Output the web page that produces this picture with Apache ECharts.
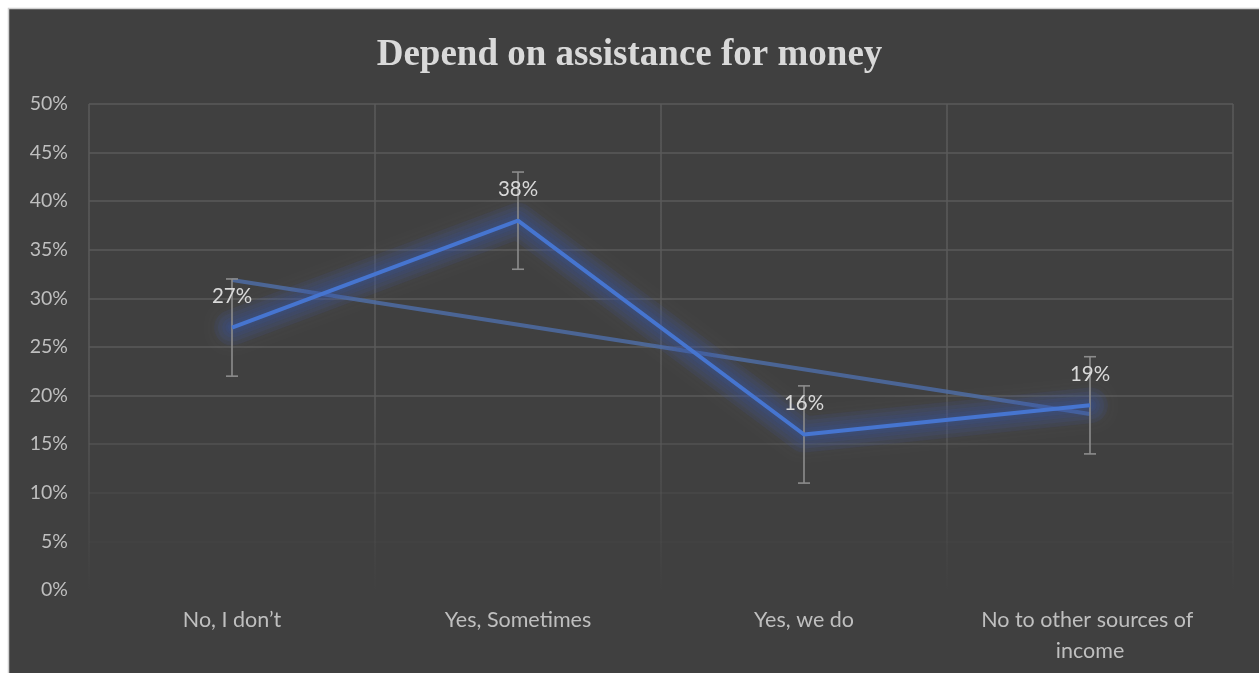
<!DOCTYPE html>
<html>
<head>
<meta charset="utf-8">
<script src="https://cdn.jsdelivr.net/npm/echarts@6/dist/echarts.min.js"></script>
<style>
  html, body { margin: 0; padding: 0; background: #fff; }
  #chart { width: 1259px; height: 673px; }
</style>
</head>
<body>
<div id="chart"></div>
<script>
// Survey answers and shares
const categories = ['No, I don\u2019t', 'Yes, Sometimes', 'Yes, we do', 'No to other sources of income'];
const shares = [27, 38, 16, 19];
// Error amount (percentage points) shown above and below each point
const errorPlus = [5, 5, 5, 5];
const errorMinus = [5, 5, 5, 5];
// Linear trend line end values (first and last category)
const trendEnds = [31.9, 18.1];
const yTicks = ['0%', '5%', '10%', '15%', '20%', '25%', '30%', '35%', '40%', '45%', '50%'];

const chart = echarts.init(document.getElementById('chart'));

const labelFont = 'Lato, "Noto Sans", sans-serif';
const grid = '#5a5a5a';

const trendData = categories.map((_, i) =>
  i === 0 ? trendEnds[0] : (i === categories.length - 1 ? trendEnds[1] : null));

const errorData = shares.map((v, i) => [i, v - errorMinus[i], v + errorPlus[i]]);

// Stacked translucent strokes that build a soft halo around the main line
const glowLayers = [36, 28, 20, 13, 8].map(w => ({
  type: 'line',
  data: shares,
  symbol: 'none',
  silent: true,
  z: 3,
  lineStyle: {
    color: 'rgba(55,90,175,0.1)',
    width: w,
    join: 'round',
    cap: 'round',
    shadowColor: 'rgba(55,90,175,0.3)',
    shadowBlur: 8
  }
}));

chart.setOption({
  backgroundColor: '#ffffff',
  animation: false,
  graphic: [{
    type: 'rect',
    z: -10,
    shape: { x: 8.5, y: 8.5, width: 1260, height: 670 },
    style: { fill: '#404040', stroke: '#d0d0d0', lineWidth: 1.5 }
  }],
  title: {
    text: 'Depend on assistance for money',
    left: 'center',
    top: 32,
    textStyle: {
      fontFamily: '"Liberation Serif", "DejaVu Serif", serif',
      fontWeight: 'bold',
      fontSize: 37,
      color: '#d9d9d9'
    }
  },
  grid: { left: 89, right: 26, top: 104, bottom: 83 },
  xAxis: {
    type: 'category',
    data: categories,
    boundaryGap: true,
    axisLine: { show: false },
    axisTick: { show: false },
    axisLabel: {
      color: '#bfbfbf',
      fontFamily: labelFont,
      fontSize: 21.5,
      margin: 15,
      lineHeight: 31,
      width: 260,
      overflow: 'break',
      interval: 0
    },
    splitLine: {
      show: true,
      lineStyle: {
        width: 1.5,
        color: new echarts.graphic.LinearGradient(0, 0, 0, 1, [
          { offset: 0, color: 'rgba(90,90,90,1)' },
          { offset: 0.6, color: 'rgba(90,90,90,1)' },
          { offset: 0.85, color: 'rgba(90,90,90,0.35)' },
          { offset: 1, color: 'rgba(90,90,90,0)' }
        ])
      }
    }
  },
  yAxis: {
    type: 'value',
    min: 0,
    max: 50,
    interval: 5,
    axisLine: { show: false },
    axisTick: { show: false },
    axisLabel: {
      color: '#bfbfbf',
      fontFamily: labelFont,
      fontSize: 19.5,
      margin: 21,
      formatter: v => yTicks[Math.round(v / 5)]
    },
    splitLine: {
      show: true,
      lineStyle: {
        width: 1.5,
        color: [
          'rgba(90,90,90,0)', 'rgba(90,90,90,0.15)', 'rgba(90,90,90,0.35)',
          'rgba(90,90,90,0.65)', grid, grid, grid, grid, grid, grid, grid
        ]
      }
    }
  },
  series: [
    {
      name: 'Trend',
      type: 'line',
      data: trendData,
      connectNulls: true,
      symbol: 'none',
      z: 2,
      lineStyle: { color: 'rgba(78,110,170,0.8)', width: 4 }
    },
    ...glowLayers,
    {
      name: 'Errors',
      type: 'custom',
      data: errorData,
      z: 4,
      renderItem: (params, api) => {
        const x = api.value(0);
        const lo = api.coord([x, api.value(1)]);
        const hi = api.coord([x, api.value(2)]);
        const cap = 6;
        const style = { stroke: '#8c8c8c', lineWidth: 1.6 };
        return {
          type: 'group',
          children: [
            { type: 'line', shape: { x1: lo[0], y1: lo[1], x2: hi[0], y2: hi[1] }, style },
            { type: 'line', shape: { x1: lo[0] - cap, y1: lo[1], x2: lo[0] + cap, y2: lo[1] }, style },
            { type: 'line', shape: { x1: hi[0] - cap, y1: hi[1], x2: hi[0] + cap, y2: hi[1] }, style }
          ]
        };
      }
    },
    {
      name: 'Share',
      type: 'line',
      data: shares,
      symbol: 'circle',
      symbolSize: 1,
      showSymbol: true,
      itemStyle: { color: 'rgba(0,0,0,0)' },
      z: 5,
      lineStyle: {
        color: '#4675d0',
        width: 4
      },
      label: {
        show: true,
        position: 'top',
        distance: 20,
        formatter: p => p.value + '%',
        color: '#d9d9d9',
        fontFamily: labelFont,
        fontSize: 20.5
      }
    }
  ]
});
</script>
</body>
</html>
